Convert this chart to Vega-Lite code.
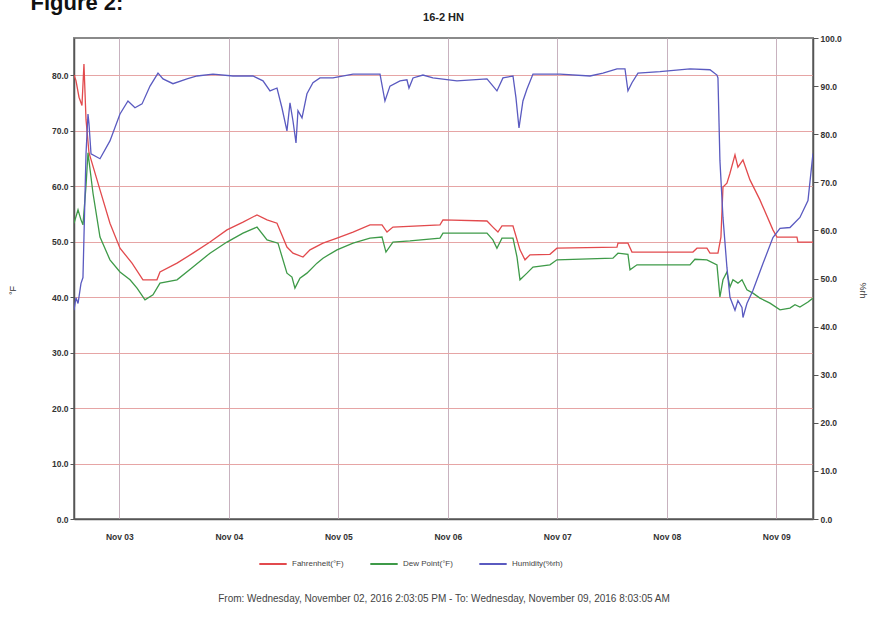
{
  "$schema": "https://vega.github.io/schema/vega-lite/v6.json",
  "width": 739,
  "height": 481,
  "autosize": {"type": "none"},
  "padding": {"left": 74, "top": 38, "right": 63, "bottom": 108},
  "title": {"text": "16-2 HN", "anchor": "middle", "fontSize": 11, "fontWeight": "bold", "font": "Liberation Sans", "color": "#222", "baseline": "bottom", "offset": 0, "dy": 43},
  "config": {
    "font": "Liberation Sans",
    "view": {"stroke": "#8a8a8a", "strokeWidth": 2},
    "axis": {
      "labelFont": "Liberation Sans", "labelFontSize": 8.5, "labelFontWeight": "bold", "labelColor": "#333",
      "domainColor": "#555", "domainWidth": 1.5, "tickColor": "#555",
      "titleFont": "Liberation Sans", "titleFontWeight": "normal", "titleColor": "#333", "titleFontSize": 10
    }
  },
  "datasets": {
    "temp": [
      {"t": "2016-11-02T14:03:00Z", "series": "Fahrenheit(°F)", "value": 80.0},
      {"t": "2016-11-02T14:29:00Z", "series": "Fahrenheit(°F)", "value": 79.0},
      {"t": "2016-11-02T15:09:00Z", "series": "Fahrenheit(°F)", "value": 76.0},
      {"t": "2016-11-02T15:48:00Z", "series": "Fahrenheit(°F)", "value": 74.5},
      {"t": "2016-11-02T16:14:00Z", "series": "Fahrenheit(°F)", "value": 82.0},
      {"t": "2016-11-02T16:41:00Z", "series": "Fahrenheit(°F)", "value": 72.0},
      {"t": "2016-11-02T17:20:00Z", "series": "Fahrenheit(°F)", "value": 66.0},
      {"t": "2016-11-02T19:45:00Z", "series": "Fahrenheit(°F)", "value": 59.3},
      {"t": "2016-11-02T21:56:00Z", "series": "Fahrenheit(°F)", "value": 53.3},
      {"t": "2016-11-03T00:08:00Z", "series": "Fahrenheit(°F)", "value": 48.8},
      {"t": "2016-11-03T02:46:00Z", "series": "Fahrenheit(°F)", "value": 46.1},
      {"t": "2016-11-03T05:10:00Z", "series": "Fahrenheit(°F)", "value": 43.1},
      {"t": "2016-11-03T08:14:00Z", "series": "Fahrenheit(°F)", "value": 43.1},
      {"t": "2016-11-03T08:54:00Z", "series": "Fahrenheit(°F)", "value": 44.5},
      {"t": "2016-11-03T12:38:00Z", "series": "Fahrenheit(°F)", "value": 46.1},
      {"t": "2016-11-03T16:08:00Z", "series": "Fahrenheit(°F)", "value": 47.9},
      {"t": "2016-11-03T19:52:00Z", "series": "Fahrenheit(°F)", "value": 49.9},
      {"t": "2016-11-03T23:35:00Z", "series": "Fahrenheit(°F)", "value": 52.1},
      {"t": "2016-11-04T03:06:00Z", "series": "Fahrenheit(°F)", "value": 53.5},
      {"t": "2016-11-04T06:10:00Z", "series": "Fahrenheit(°F)", "value": 54.8},
      {"t": "2016-11-04T08:22:00Z", "series": "Fahrenheit(°F)", "value": 53.9},
      {"t": "2016-11-04T10:33:00Z", "series": "Fahrenheit(°F)", "value": 53.3},
      {"t": "2016-11-04T12:44:00Z", "series": "Fahrenheit(°F)", "value": 49.0},
      {"t": "2016-11-04T14:03:00Z", "series": "Fahrenheit(°F)", "value": 47.9},
      {"t": "2016-11-04T16:15:00Z", "series": "Fahrenheit(°F)", "value": 47.2},
      {"t": "2016-11-04T17:47:00Z", "series": "Fahrenheit(°F)", "value": 48.5},
      {"t": "2016-11-04T20:38:00Z", "series": "Fahrenheit(°F)", "value": 49.7},
      {"t": "2016-11-04T23:42:00Z", "series": "Fahrenheit(°F)", "value": 50.6},
      {"t": "2016-11-05T03:13:00Z", "series": "Fahrenheit(°F)", "value": 51.7},
      {"t": "2016-11-05T06:56:00Z", "series": "Fahrenheit(°F)", "value": 53.0},
      {"t": "2016-11-05T09:34:00Z", "series": "Fahrenheit(°F)", "value": 53.0},
      {"t": "2016-11-05T10:40:00Z", "series": "Fahrenheit(°F)", "value": 51.7},
      {"t": "2016-11-05T11:58:00Z", "series": "Fahrenheit(°F)", "value": 52.6},
      {"t": "2016-11-05T22:17:00Z", "series": "Fahrenheit(°F)", "value": 53.0},
      {"t": "2016-11-05T22:56:00Z", "series": "Fahrenheit(°F)", "value": 53.9},
      {"t": "2016-11-06T08:35:00Z", "series": "Fahrenheit(°F)", "value": 53.7},
      {"t": "2016-11-06T09:53:00Z", "series": "Fahrenheit(°F)", "value": 52.6},
      {"t": "2016-11-06T10:59:00Z", "series": "Fahrenheit(°F)", "value": 51.7},
      {"t": "2016-11-06T11:52:00Z", "series": "Fahrenheit(°F)", "value": 52.8},
      {"t": "2016-11-06T14:17:00Z", "series": "Fahrenheit(°F)", "value": 52.8},
      {"t": "2016-11-06T15:49:00Z", "series": "Fahrenheit(°F)", "value": 48.5},
      {"t": "2016-11-06T16:55:00Z", "series": "Fahrenheit(°F)", "value": 46.7},
      {"t": "2016-11-06T18:01:00Z", "series": "Fahrenheit(°F)", "value": 47.6},
      {"t": "2016-11-06T22:23:00Z", "series": "Fahrenheit(°F)", "value": 47.7},
      {"t": "2016-11-06T23:55:00Z", "series": "Fahrenheit(°F)", "value": 48.8},
      {"t": "2016-11-07T13:05:00Z", "series": "Fahrenheit(°F)", "value": 49.0},
      {"t": "2016-11-07T13:18:00Z", "series": "Fahrenheit(°F)", "value": 49.7},
      {"t": "2016-11-07T15:29:00Z", "series": "Fahrenheit(°F)", "value": 49.7},
      {"t": "2016-11-07T16:22:00Z", "series": "Fahrenheit(°F)", "value": 48.1},
      {"t": "2016-11-08T05:44:00Z", "series": "Fahrenheit(°F)", "value": 48.1},
      {"t": "2016-11-08T06:37:00Z", "series": "Fahrenheit(°F)", "value": 48.8},
      {"t": "2016-11-08T08:48:00Z", "series": "Fahrenheit(°F)", "value": 48.8},
      {"t": "2016-11-08T09:28:00Z", "series": "Fahrenheit(°F)", "value": 47.9},
      {"t": "2016-11-08T11:13:00Z", "series": "Fahrenheit(°F)", "value": 47.9},
      {"t": "2016-11-08T11:52:00Z", "series": "Fahrenheit(°F)", "value": 50.8},
      {"t": "2016-11-08T12:19:00Z", "series": "Fahrenheit(°F)", "value": 59.8},
      {"t": "2016-11-08T13:11:00Z", "series": "Fahrenheit(°F)", "value": 60.5},
      {"t": "2016-11-08T13:51:00Z", "series": "Fahrenheit(°F)", "value": 62.3},
      {"t": "2016-11-08T14:57:00Z", "series": "Fahrenheit(°F)", "value": 65.6},
      {"t": "2016-11-08T15:36:00Z", "series": "Fahrenheit(°F)", "value": 63.4},
      {"t": "2016-11-08T16:42:00Z", "series": "Fahrenheit(°F)", "value": 64.7},
      {"t": "2016-11-08T18:14:00Z", "series": "Fahrenheit(°F)", "value": 61.1},
      {"t": "2016-11-08T20:25:00Z", "series": "Fahrenheit(°F)", "value": 57.5},
      {"t": "2016-11-08T23:16:00Z", "series": "Fahrenheit(°F)", "value": 52.1},
      {"t": "2016-11-09T00:09:00Z", "series": "Fahrenheit(°F)", "value": 50.8},
      {"t": "2016-11-09T04:32:00Z", "series": "Fahrenheit(°F)", "value": 50.8},
      {"t": "2016-11-09T04:45:00Z", "series": "Fahrenheit(°F)", "value": 49.9},
      {"t": "2016-11-09T08:03:00Z", "series": "Fahrenheit(°F)", "value": 49.9},

      {"t": "2016-11-02T14:03:00Z", "series": "Dew Point(°F)", "value": 53.3},
      {"t": "2016-11-02T14:56:00Z", "series": "Dew Point(°F)", "value": 55.7},
      {"t": "2016-11-02T15:35:00Z", "series": "Dew Point(°F)", "value": 53.9},
      {"t": "2016-11-02T16:01:00Z", "series": "Dew Point(°F)", "value": 53.0},
      {"t": "2016-11-02T16:41:00Z", "series": "Dew Point(°F)", "value": 60.0},
      {"t": "2016-11-02T17:07:00Z", "series": "Dew Point(°F)", "value": 66.0},
      {"t": "2016-11-02T18:13:00Z", "series": "Dew Point(°F)", "value": 58.7},
      {"t": "2016-11-02T19:45:00Z", "series": "Dew Point(°F)", "value": 50.8},
      {"t": "2016-11-02T21:56:00Z", "series": "Dew Point(°F)", "value": 46.7},
      {"t": "2016-11-03T00:08:00Z", "series": "Dew Point(°F)", "value": 44.5},
      {"t": "2016-11-03T02:20:00Z", "series": "Dew Point(°F)", "value": 43.1},
      {"t": "2016-11-03T03:52:00Z", "series": "Dew Point(°F)", "value": 41.6},
      {"t": "2016-11-03T05:37:00Z", "series": "Dew Point(°F)", "value": 39.5},
      {"t": "2016-11-03T07:22:00Z", "series": "Dew Point(°F)", "value": 40.4},
      {"t": "2016-11-03T08:54:00Z", "series": "Dew Point(°F)", "value": 42.5},
      {"t": "2016-11-03T12:38:00Z", "series": "Dew Point(°F)", "value": 43.1},
      {"t": "2016-11-03T16:08:00Z", "series": "Dew Point(°F)", "value": 45.4},
      {"t": "2016-11-03T19:52:00Z", "series": "Dew Point(°F)", "value": 47.9},
      {"t": "2016-11-03T23:35:00Z", "series": "Dew Point(°F)", "value": 49.9},
      {"t": "2016-11-04T03:06:00Z", "series": "Dew Point(°F)", "value": 51.5},
      {"t": "2016-11-04T06:10:00Z", "series": "Dew Point(°F)", "value": 52.6},
      {"t": "2016-11-04T08:22:00Z", "series": "Dew Point(°F)", "value": 50.3},
      {"t": "2016-11-04T10:46:00Z", "series": "Dew Point(°F)", "value": 49.7},
      {"t": "2016-11-04T12:44:00Z", "series": "Dew Point(°F)", "value": 44.3},
      {"t": "2016-11-04T13:50:00Z", "series": "Dew Point(°F)", "value": 43.6},
      {"t": "2016-11-04T14:29:00Z", "series": "Dew Point(°F)", "value": 41.6},
      {"t": "2016-11-04T15:35:00Z", "series": "Dew Point(°F)", "value": 43.4},
      {"t": "2016-11-04T17:07:00Z", "series": "Dew Point(°F)", "value": 44.3},
      {"t": "2016-11-04T19:19:00Z", "series": "Dew Point(°F)", "value": 46.1},
      {"t": "2016-11-04T20:38:00Z", "series": "Dew Point(°F)", "value": 47.0},
      {"t": "2016-11-04T23:42:00Z", "series": "Dew Point(°F)", "value": 48.5},
      {"t": "2016-11-05T03:13:00Z", "series": "Dew Point(°F)", "value": 49.7},
      {"t": "2016-11-05T06:56:00Z", "series": "Dew Point(°F)", "value": 50.6},
      {"t": "2016-11-05T09:34:00Z", "series": "Dew Point(°F)", "value": 50.8},
      {"t": "2016-11-05T10:26:00Z", "series": "Dew Point(°F)", "value": 48.1},
      {"t": "2016-11-05T11:58:00Z", "series": "Dew Point(°F)", "value": 49.9},
      {"t": "2016-11-05T15:42:00Z", "series": "Dew Point(°F)", "value": 50.1},
      {"t": "2016-11-05T22:17:00Z", "series": "Dew Point(°F)", "value": 50.6},
      {"t": "2016-11-05T22:56:00Z", "series": "Dew Point(°F)", "value": 51.5},
      {"t": "2016-11-06T08:35:00Z", "series": "Dew Point(°F)", "value": 51.5},
      {"t": "2016-11-06T09:53:00Z", "series": "Dew Point(°F)", "value": 50.3},
      {"t": "2016-11-06T10:46:00Z", "series": "Dew Point(°F)", "value": 48.8},
      {"t": "2016-11-06T11:52:00Z", "series": "Dew Point(°F)", "value": 50.6},
      {"t": "2016-11-06T14:17:00Z", "series": "Dew Point(°F)", "value": 50.6},
      {"t": "2016-11-06T15:10:00Z", "series": "Dew Point(°F)", "value": 47.2},
      {"t": "2016-11-06T15:49:00Z", "series": "Dew Point(°F)", "value": 43.1},
      {"t": "2016-11-06T17:21:00Z", "series": "Dew Point(°F)", "value": 44.3},
      {"t": "2016-11-06T18:40:00Z", "series": "Dew Point(°F)", "value": 45.4},
      {"t": "2016-11-06T22:23:00Z", "series": "Dew Point(°F)", "value": 45.8},
      {"t": "2016-11-06T23:55:00Z", "series": "Dew Point(°F)", "value": 46.7},
      {"t": "2016-11-07T12:12:00Z", "series": "Dew Point(°F)", "value": 47.0},
      {"t": "2016-11-07T13:18:00Z", "series": "Dew Point(°F)", "value": 47.9},
      {"t": "2016-11-07T15:29:00Z", "series": "Dew Point(°F)", "value": 47.7},
      {"t": "2016-11-07T15:56:00Z", "series": "Dew Point(°F)", "value": 44.9},
      {"t": "2016-11-07T17:28:00Z", "series": "Dew Point(°F)", "value": 45.8},
      {"t": "2016-11-08T05:05:00Z", "series": "Dew Point(°F)", "value": 45.8},
      {"t": "2016-11-08T06:10:00Z", "series": "Dew Point(°F)", "value": 46.8},
      {"t": "2016-11-08T08:48:00Z", "series": "Dew Point(°F)", "value": 46.7},
      {"t": "2016-11-08T11:00:00Z", "series": "Dew Point(°F)", "value": 45.8},
      {"t": "2016-11-08T11:39:00Z", "series": "Dew Point(°F)", "value": 40.0},
      {"t": "2016-11-08T12:19:00Z", "series": "Dew Point(°F)", "value": 43.1},
      {"t": "2016-11-08T13:11:00Z", "series": "Dew Point(°F)", "value": 44.5},
      {"t": "2016-11-08T13:51:00Z", "series": "Dew Point(°F)", "value": 41.8},
      {"t": "2016-11-08T14:30:00Z", "series": "Dew Point(°F)", "value": 43.1},
      {"t": "2016-11-08T15:36:00Z", "series": "Dew Point(°F)", "value": 42.5},
      {"t": "2016-11-08T16:29:00Z", "series": "Dew Point(°F)", "value": 43.1},
      {"t": "2016-11-08T17:34:00Z", "series": "Dew Point(°F)", "value": 41.3},
      {"t": "2016-11-08T18:53:00Z", "series": "Dew Point(°F)", "value": 40.7},
      {"t": "2016-11-08T20:25:00Z", "series": "Dew Point(°F)", "value": 39.8},
      {"t": "2016-11-08T22:37:00Z", "series": "Dew Point(°F)", "value": 38.9},
      {"t": "2016-11-09T00:49:00Z", "series": "Dew Point(°F)", "value": 37.7},
      {"t": "2016-11-09T03:00:00Z", "series": "Dew Point(°F)", "value": 38.0},
      {"t": "2016-11-09T04:06:00Z", "series": "Dew Point(°F)", "value": 38.6},
      {"t": "2016-11-09T05:11:00Z", "series": "Dew Point(°F)", "value": 38.2},
      {"t": "2016-11-09T06:57:00Z", "series": "Dew Point(°F)", "value": 39.1},
      {"t": "2016-11-09T08:03:00Z", "series": "Dew Point(°F)", "value": 39.8}
    ],
    "hum": [
      {"t": "2016-11-02T14:03:00Z", "series": "Humidity(%rh)", "value": 43.4},
      {"t": "2016-11-02T14:29:00Z", "series": "Humidity(%rh)", "value": 46.0},
      {"t": "2016-11-02T14:56:00Z", "series": "Humidity(%rh)", "value": 44.8},
      {"t": "2016-11-02T15:35:00Z", "series": "Humidity(%rh)", "value": 49.0},
      {"t": "2016-11-02T16:01:00Z", "series": "Humidity(%rh)", "value": 50.2},
      {"t": "2016-11-02T16:14:00Z", "series": "Humidity(%rh)", "value": 58.5},
      {"t": "2016-11-02T16:41:00Z", "series": "Humidity(%rh)", "value": 75.9},
      {"t": "2016-11-02T17:07:00Z", "series": "Humidity(%rh)", "value": 84.2},
      {"t": "2016-11-02T17:20:00Z", "series": "Humidity(%rh)", "value": 82.2},
      {"t": "2016-11-02T17:47:00Z", "series": "Humidity(%rh)", "value": 75.9},
      {"t": "2016-11-02T19:45:00Z", "series": "Humidity(%rh)", "value": 74.9},
      {"t": "2016-11-02T21:56:00Z", "series": "Humidity(%rh)", "value": 78.6},
      {"t": "2016-11-03T00:08:00Z", "series": "Humidity(%rh)", "value": 84.2},
      {"t": "2016-11-03T01:53:00Z", "series": "Humidity(%rh)", "value": 86.9},
      {"t": "2016-11-03T03:25:00Z", "series": "Humidity(%rh)", "value": 85.5},
      {"t": "2016-11-03T04:58:00Z", "series": "Humidity(%rh)", "value": 86.3},
      {"t": "2016-11-03T06:43:00Z", "series": "Humidity(%rh)", "value": 90.0},
      {"t": "2016-11-03T08:28:00Z", "series": "Humidity(%rh)", "value": 92.7},
      {"t": "2016-11-03T09:34:00Z", "series": "Humidity(%rh)", "value": 91.5},
      {"t": "2016-11-03T11:45:00Z", "series": "Humidity(%rh)", "value": 90.5},
      {"t": "2016-11-03T14:49:00Z", "series": "Humidity(%rh)", "value": 91.5},
      {"t": "2016-11-03T17:01:00Z", "series": "Humidity(%rh)", "value": 92.1},
      {"t": "2016-11-03T20:31:00Z", "series": "Humidity(%rh)", "value": 92.5},
      {"t": "2016-11-04T00:54:00Z", "series": "Humidity(%rh)", "value": 92.1},
      {"t": "2016-11-04T05:17:00Z", "series": "Humidity(%rh)", "value": 92.1},
      {"t": "2016-11-04T07:29:00Z", "series": "Humidity(%rh)", "value": 91.1},
      {"t": "2016-11-04T09:01:00Z", "series": "Humidity(%rh)", "value": 89.0},
      {"t": "2016-11-04T10:33:00Z", "series": "Humidity(%rh)", "value": 89.6},
      {"t": "2016-11-04T11:38:00Z", "series": "Humidity(%rh)", "value": 85.5},
      {"t": "2016-11-04T12:44:00Z", "series": "Humidity(%rh)", "value": 80.7},
      {"t": "2016-11-04T13:24:00Z", "series": "Humidity(%rh)", "value": 86.5},
      {"t": "2016-11-04T14:03:00Z", "series": "Humidity(%rh)", "value": 82.8},
      {"t": "2016-11-04T14:43:00Z", "series": "Humidity(%rh)", "value": 78.2},
      {"t": "2016-11-04T15:09:00Z", "series": "Humidity(%rh)", "value": 84.9},
      {"t": "2016-11-04T16:02:00Z", "series": "Humidity(%rh)", "value": 83.4},
      {"t": "2016-11-04T17:07:00Z", "series": "Humidity(%rh)", "value": 88.4},
      {"t": "2016-11-04T18:26:00Z", "series": "Humidity(%rh)", "value": 90.7},
      {"t": "2016-11-04T19:58:00Z", "series": "Humidity(%rh)", "value": 91.7},
      {"t": "2016-11-04T22:49:00Z", "series": "Humidity(%rh)", "value": 91.7},
      {"t": "2016-11-05T03:13:00Z", "series": "Humidity(%rh)", "value": 92.5},
      {"t": "2016-11-05T09:08:00Z", "series": "Humidity(%rh)", "value": 92.5},
      {"t": "2016-11-05T10:13:00Z", "series": "Humidity(%rh)", "value": 86.9},
      {"t": "2016-11-05T11:19:00Z", "series": "Humidity(%rh)", "value": 90.0},
      {"t": "2016-11-05T13:31:00Z", "series": "Humidity(%rh)", "value": 91.1},
      {"t": "2016-11-05T15:02:00Z", "series": "Humidity(%rh)", "value": 91.3},
      {"t": "2016-11-05T15:29:00Z", "series": "Humidity(%rh)", "value": 89.6},
      {"t": "2016-11-05T16:22:00Z", "series": "Humidity(%rh)", "value": 91.7},
      {"t": "2016-11-05T18:33:00Z", "series": "Humidity(%rh)", "value": 92.3},
      {"t": "2016-11-05T20:44:00Z", "series": "Humidity(%rh)", "value": 91.7},
      {"t": "2016-11-06T02:00:00Z", "series": "Humidity(%rh)", "value": 91.1},
      {"t": "2016-11-06T08:35:00Z", "series": "Humidity(%rh)", "value": 91.5},
      {"t": "2016-11-06T10:46:00Z", "series": "Humidity(%rh)", "value": 89.0},
      {"t": "2016-11-06T12:05:00Z", "series": "Humidity(%rh)", "value": 91.7},
      {"t": "2016-11-06T14:17:00Z", "series": "Humidity(%rh)", "value": 92.1},
      {"t": "2016-11-06T14:56:00Z", "series": "Humidity(%rh)", "value": 87.6},
      {"t": "2016-11-06T15:36:00Z", "series": "Humidity(%rh)", "value": 81.3},
      {"t": "2016-11-06T16:28:00Z", "series": "Humidity(%rh)", "value": 86.9},
      {"t": "2016-11-06T17:21:00Z", "series": "Humidity(%rh)", "value": 89.4},
      {"t": "2016-11-06T18:40:00Z", "series": "Humidity(%rh)", "value": 92.5},
      {"t": "2016-11-07T00:35:00Z", "series": "Humidity(%rh)", "value": 92.5},
      {"t": "2016-11-07T07:10:00Z", "series": "Humidity(%rh)", "value": 92.1},
      {"t": "2016-11-07T10:01:00Z", "series": "Humidity(%rh)", "value": 92.7},
      {"t": "2016-11-07T13:05:00Z", "series": "Humidity(%rh)", "value": 93.6},
      {"t": "2016-11-07T14:50:00Z", "series": "Humidity(%rh)", "value": 93.6},
      {"t": "2016-11-07T15:29:00Z", "series": "Humidity(%rh)", "value": 89.0},
      {"t": "2016-11-07T16:22:00Z", "series": "Humidity(%rh)", "value": 90.7},
      {"t": "2016-11-07T17:41:00Z", "series": "Humidity(%rh)", "value": 92.7},
      {"t": "2016-11-07T22:30:00Z", "series": "Humidity(%rh)", "value": 93.0},
      {"t": "2016-11-08T05:05:00Z", "series": "Humidity(%rh)", "value": 93.6},
      {"t": "2016-11-08T09:28:00Z", "series": "Humidity(%rh)", "value": 93.4},
      {"t": "2016-11-08T11:00:00Z", "series": "Humidity(%rh)", "value": 92.3},
      {"t": "2016-11-08T11:13:00Z", "series": "Humidity(%rh)", "value": 91.7},
      {"t": "2016-11-08T11:39:00Z", "series": "Humidity(%rh)", "value": 74.5},
      {"t": "2016-11-08T12:19:00Z", "series": "Humidity(%rh)", "value": 62.7},
      {"t": "2016-11-08T13:11:00Z", "series": "Humidity(%rh)", "value": 52.3},
      {"t": "2016-11-08T13:51:00Z", "series": "Humidity(%rh)", "value": 46.1},
      {"t": "2016-11-08T14:57:00Z", "series": "Humidity(%rh)", "value": 43.4},
      {"t": "2016-11-08T15:36:00Z", "series": "Humidity(%rh)", "value": 45.4},
      {"t": "2016-11-08T16:29:00Z", "series": "Humidity(%rh)", "value": 44.0},
      {"t": "2016-11-08T16:42:00Z", "series": "Humidity(%rh)", "value": 41.9},
      {"t": "2016-11-08T17:34:00Z", "series": "Humidity(%rh)", "value": 44.8},
      {"t": "2016-11-08T18:53:00Z", "series": "Humidity(%rh)", "value": 47.5},
      {"t": "2016-11-08T21:05:00Z", "series": "Humidity(%rh)", "value": 53.1},
      {"t": "2016-11-08T23:16:00Z", "series": "Humidity(%rh)", "value": 58.5},
      {"t": "2016-11-09T00:49:00Z", "series": "Humidity(%rh)", "value": 60.4},
      {"t": "2016-11-09T03:00:00Z", "series": "Humidity(%rh)", "value": 60.6},
      {"t": "2016-11-09T05:11:00Z", "series": "Humidity(%rh)", "value": 62.7},
      {"t": "2016-11-09T06:57:00Z", "series": "Humidity(%rh)", "value": 66.2},
      {"t": "2016-11-09T08:03:00Z", "series": "Humidity(%rh)", "value": 76.0}
    ]
  },
  "layer": [
    {
      "data": {"name": "temp"},
      "mark": {"type": "line", "strokeWidth": 1.3, "clip": true},
      "encoding": {
        "x": {
          "field": "t", "type": "temporal",
          "scale": {"type": "utc", "domain": [
            {"year": 2016, "month": 11, "date": 2, "hours": 14, "minutes": 3, "seconds": 5, "utc": true},
            {"year": 2016, "month": 11, "date": 9, "hours": 8, "minutes": 3, "seconds": 5, "utc": true}
          ]},
          "axis": {
            "orient": "bottom",
            "values": [
              {"year": 2016, "month": 11, "date": 3, "utc": true},
              {"year": 2016, "month": 11, "date": 4, "utc": true},
              {"year": 2016, "month": 11, "date": 5, "utc": true},
              {"year": 2016, "month": 11, "date": 6, "utc": true},
              {"year": 2016, "month": 11, "date": 7, "utc": true},
              {"year": 2016, "month": 11, "date": 8, "utc": true},
              {"year": 2016, "month": 11, "date": 9, "utc": true}
            ],
            "labelExpr": "utcFormat(datum.value, '%b %d')",
            "grid": true, "gridColor": "#c8b2bf", "gridWidth": 1,
            "ticks": false, "labelPadding": 13, "labelFontSize": 8.5,
            "title": "From: Wednesday, November 02, 2016 2:03:05 PM  -  To: Wednesday, November 09, 2016 8:03:05 AM",
            "titleX": 369.5, "titleY": 82, "titleAlign": "center", "titleBaseline": "alphabetic",
            "titleFontSize": 10, "titleColor": "#444"
          }
        },
        "y": {
          "field": "value", "type": "quantitative",
          "scale": {"domain": [0, 86.67], "nice": false},
          "axis": {
            "orient": "left", "values": [0, 10, 20, 30, 40, 50, 60, 70, 80], "format": ".1f",
            "grid": true, "gridColor": "#e6a5a5", "gridWidth": 1,
            "tickSize": 4, "labelPadding": 2,
            "title": "°F", "titleX": -57, "titleY": 252, "titleAngle": 270, "titleFontSize": 9
          }
        },
        "color": {
          "field": "series", "type": "nominal",
          "scale": {"domain": ["Fahrenheit(°F)", "Dew Point(°F)", "Humidity(%rh)"], "range": ["#e24a4d", "#3e9a48", "#5a5ac0"]},
          "legend": {
            "orient": "none", "legendX": 184, "legendY": 511, "direction": "horizontal", "title": null,
            "symbolType": "stroke", "symbolSize": 750, "symbolStrokeWidth": 2,
            "labelFont": "Liberation Sans", "labelFontSize": 8, "labelColor": "#444", "columnPadding": 22
          }
        }
      }
    },
    {
      "data": {"name": "hum"},
      "mark": {"type": "line", "strokeWidth": 1.3, "clip": true},
      "encoding": {
        "x": {
          "field": "t", "type": "temporal",
          "axis": {
            "orient": "top", "labels": false, "ticks": false, "domain": false, "grid": false,
            "title": "Figure 2:", "titleX": -44, "titleY": -29, "titleAlign": "left", "titleBaseline": "alphabetic",
            "titleAngle": 0, "titleFontSize": 22, "titleFontWeight": "bold", "titleColor": "#111"
          }
        },
        "y": {
          "field": "value", "type": "quantitative",
          "scale": {"domain": [0, 100], "nice": false},
          "axis": {
            "orient": "right", "values": [0, 10, 20, 30, 40, 50, 60, 70, 80, 90, 100], "format": ".1f",
            "grid": false, "tickSize": 5, "labelPadding": 2,
            "title": "%rh", "titleX": 44, "titleY": 252, "titleAngle": 90, "titleFontSize": 9
          }
        },
        "color": {"field": "series", "type": "nominal"}
      }
    }
  ],
  "resolve": {"scale": {"y": "independent"}, "axis": {"x": "independent"}}
}
